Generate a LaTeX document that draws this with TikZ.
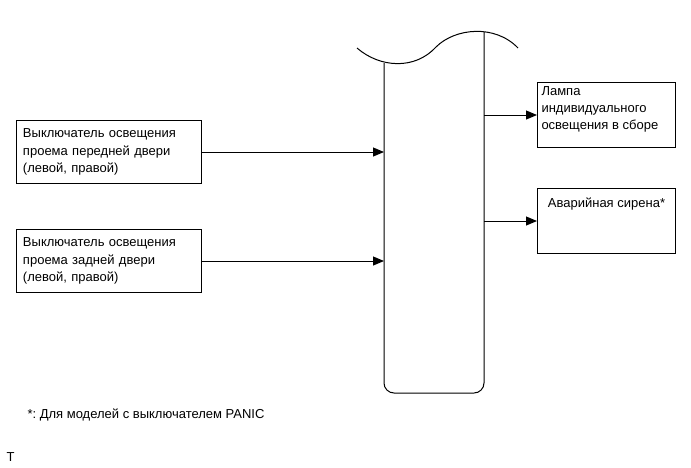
\documentclass[tikz,border=0pt]{standalone}
\usepackage{fontspec}
\setmainfont{Liberation Sans}
\usetikzlibrary{arrows.meta,positioning}
\frenchspacing
\tikzset{sw/.style={draw,line width=1pt,minimum width=185,minimum height=63,anchor=north west,inner sep=0pt,align=left,text width=172},
 outbox/.style={draw,line width=1pt,minimum width=138,minimum height=65,anchor=north west,inner sep=0pt},
 flow/.style={-{Triangle[length=11pt,width=9pt]},line width=1pt},
 wire/.style={line width=1pt},txt/.style={align=left}}

\begin{document}
\begin{tikzpicture}[x=1pt,y=-1pt,font=\fontsize{13}{17.5}\selectfont]
\useasboundingbox (0,0) rectangle (691,467);
% body of the lighting ECU
\draw[wire,rounded corners=10] (384,63)--(384,393)--(484,393)--(484,32);
\draw[wire] (357,48) .. controls (380,68) and (415,70) .. (436,47) .. controls (455,28) and (495,24) .. (518,48);
\coordinate (busl) at (384,63);\coordinate (busr) at (484,32);
% inputs
\node[sw](front) at (16,120){Выключатель освещения\\проема передней двери\\(левой, правой)};
\node[sw](rear) at (16,229){Выключатель освещения\\проема задней двери\\(левой, правой)};
\draw[flow](front.east)--(front.east -| busl);
\draw[flow](rear.east)--(rear.east -| busl);
% outputs
\node[outbox](lamp) at (537,82){\parbox[c][56pt][t]{130pt}{\raggedright\baselineskip=16.8pt Лампа\\индивидуального\\освещения в сборе}};
\node[outbox](siren) at (537,188){\parbox[c][46pt][t]{130pt}{\centering Аварийная сирена*}};
\draw[flow](busr |- lamp.west)--(lamp.west);
\draw[flow](busr |- siren.west)--(siren.west);
\node[txt,anchor=west](note) at (24,415){*: Для моделей с выключателем PANIC};
\node[txt,anchor=west](tmark) at (3,457){T};
\end{tikzpicture}
\end{document}
